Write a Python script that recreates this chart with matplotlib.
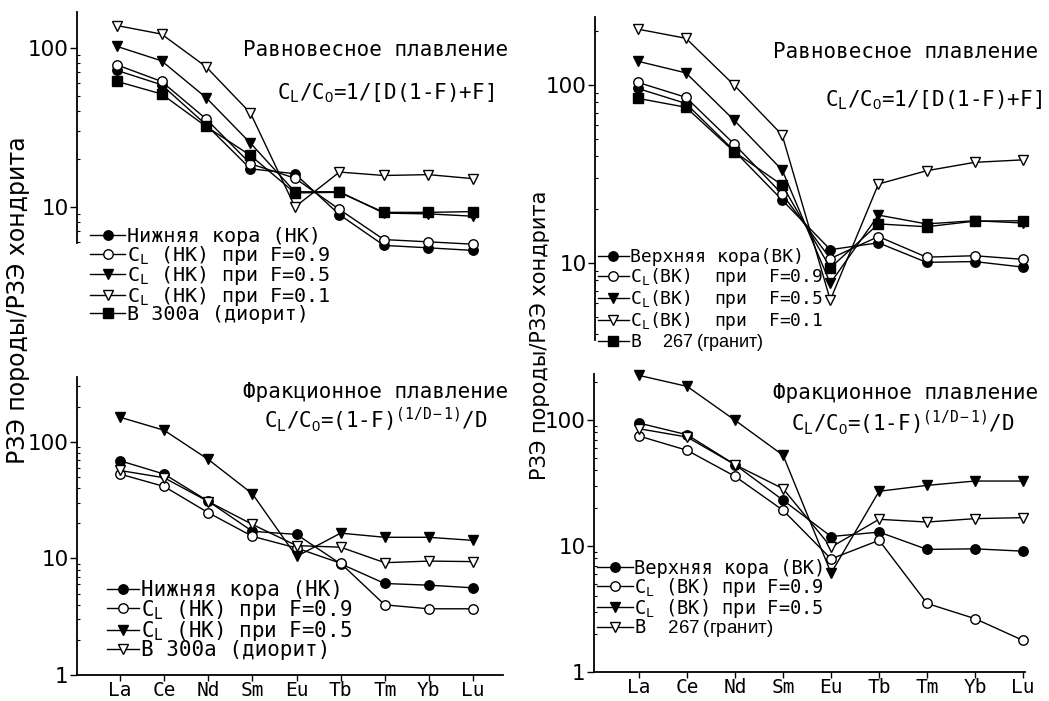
import matplotlib
matplotlib.use("Agg")
import matplotlib.pyplot as plt
from matplotlib.ticker import LogLocator, NullFormatter, FixedLocator, FuncFormatter

plt.rcParams['mathtext.fontset'] = 'custom'
plt.rcParams['mathtext.rm'] = 'DejaVu Sans Mono'
plt.rcParams['mathtext.it'] = 'DejaVu Sans Mono'
plt.rcParams['mathtext.sf'] = 'Liberation Sans'

MONO = 'DejaVu Sans Mono'

elements = ['La', 'Ce', 'Nd', 'Sm', 'Eu', 'Tb', 'Tm', 'Yb', 'Lu']

# Top-left: equilibrium melting, lower crust
lc_tl = [72, 58.5, 32.8, 17.3, 16.1, 8.9, 5.7, 5.5, 5.3]
eq_lc_f09 = [78, 61.4, 35.7, 18.6, 15.1, 9.6, 6.2, 6.0, 5.8]
eq_lc_f05 = [102, 82.8, 48.6, 25.1, 12.4, 12.4, 9.1, 9.0, 8.7]
eq_lc_f01 = [138, 122, 76, 38.8, 9.95, 16.5, 15.7, 15.9, 15.0]
b300a_tl = [61.4, 51.2, 32, 21, 12.2, 12.3, 9.2, 9.2, 9.3]

# Bottom-left: fractional melting, lower crust
lc_bl = [69, 53, 31, 17.1, 16.1, 9.0, 6.1, 5.9, 5.6]
fr_lc_f09 = [53, 41.5, 24.7, 15.5, 12.3, 9.1, 4.0, 3.7, 3.7]
fr_lc_f05 = [163, 126, 70.8, 35.9, 10.4, 16.5, 15.2, 15.2, 14.3]
b300a_bl = [56.9, 49.3, 30.8, 19.6, 12.9, 12.5, 9.2, 9.5, 9.4]

# Top-right: equilibrium melting, upper crust
uc_tr = [95.7, 78.8, 42.8, 22.6, 11.9, 13.0, 10.1, 10.2, 9.5]
eq_uc_f09 = [103.5, 85.3, 46.7, 24.4, 10.6, 14.1, 10.8, 11.0, 10.5]
eq_uc_f05 = [136, 117, 63.5, 33.3, 7.7, 18.6, 16.6, 17.3, 16.8]
eq_uc_f01 = [206, 183, 100, 52.4, 6.2, 27.8, 33, 36.8, 38]
b267_tr = [84.2, 75, 42.3, 27.4, 9.4, 16.6, 16.0, 17.2, 17.3]

# Bottom-right: fractional melting, upper crust
uc_br = [94.6, 76.4, 44.2, 23.1, 11.9, 12.9, 9.4, 9.5, 9.1]
fr_uc_f09 = [74.6, 57.5, 35.7, 19.2, 7.9, 11.1, 3.5, 2.65, 1.78]
fr_uc_f05 = [226, 185, 99.5, 52.5, 6.1, 27.2, 30.3, 32.8, 32.8]
b267_br = [85.3, 73.3, 44.2, 28.5, 9.8, 16.3, 15.5, 16.5, 16.8]

W, H = 1049, 701
fig = plt.figure(figsize=(W / 100, H / 100), dpi=100)


def fx(x):
    return x / W


def fy(y):
    return 1 - y / H


def make_ax(left, right, top, bottom, xlim, ylim, show_x):
    ax = fig.add_axes([fx(left), fy(bottom), fx(right - left), (bottom - top) / H])
    ax.set_yscale('log')
    ax.set_xlim(*xlim)
    ax.set_ylim(*ylim)
    for s in ['top', 'right']:
        ax.spines[s].set_visible(False)
    ax.spines['left'].set_linewidth(1.3)
    ax.yaxis.set_major_locator(LogLocator(base=10, numticks=10))
    ax.yaxis.set_major_formatter(FuncFormatter(lambda v, p: '%g' % v))
    ax.yaxis.set_minor_locator(LogLocator(base=10, subs=range(2, 10), numticks=20))
    ax.yaxis.set_minor_formatter(NullFormatter())
    ax.tick_params(axis='y', which='major', direction='out', length=5, width=1,
                   labelsize=15.5, pad=1)
    ax.tick_params(axis='y', which='minor', direction='in', length=2.5, width=0.8)
    for lab in ax.get_yticklabels():
        lab.set_family('DejaVu Sans')
    ax.xaxis.set_major_locator(FixedLocator(range(len(elements))))
    ax.set_xticklabels(elements, family=MONO, fontsize=14)
    ax.xaxis.set_minor_locator(FixedLocator([]))
    if show_x:
        ax.spines['bottom'].set_linewidth(1.3)
        ax.tick_params(axis='x', direction='out', length=4, width=1, pad=0.5)
    else:
        ax.spines['bottom'].set_visible(False)
        ax.tick_params(axis='x', length=0, labelbottom=False)
    return ax


x = list(range(len(elements)))
ms = 6.8


def series(ax, y, marker, filled, label):
    ax.plot(x, y, color='black', lw=1.0, marker=marker, ms=ms,
            mfc='black' if filled else 'white', mec='black', mew=1.0,
            label=label, clip_on=False)


def legend(ax, px, py, fs, hl, ls=-0.12):
    leg = ax.legend(loc='upper left', bbox_to_anchor=(fx(px), fy(py)),
                    bbox_transform=fig.transFigure, frameon=False,
                    prop={'family': MONO, 'size': fs}, handlelength=hl,
                    handletextpad=0.1, labelspacing=ls, borderpad=0,
                    borderaxespad=0)
    return leg


CL = 'C$_\\mathrm{L}$'
C0 = 'C$_\\mathsf{0}$'

# ---- Top-left
ax1 = make_ax(77, 504, 12, 243, (-0.9, 8.7), (5.9, 168), False)
series(ax1, lc_tl, 'o', True, 'Нижняя кора (НК)')
series(ax1, eq_lc_f09, 'o', False, CL + ' (НК) при F=0.9')
series(ax1, eq_lc_f05, 'v', True, CL + ' (НК) при F=0.5')
series(ax1, eq_lc_f01, 'v', False, CL + ' (НК) при F=0.1')
series(ax1, b300a_tl, 's', True, 'B 300a (диорит)')
legend(ax1, 90, 227, 14.5, 1.75)

# ---- Bottom-left
ax3 = make_ax(77, 503, 377, 675, (-0.975, 8.68), (1, 361), True)
series(ax3, lc_bl, 'o', True, 'Нижняя кора (НК)')
series(ax3, fr_lc_f09, 'o', False, CL + ' (НК) при F=0.9')
series(ax3, fr_lc_f05, 'v', True, CL + ' (НК) при F=0.5')
series(ax3, b300a_bl, 'v', False, 'B 300a (диорит)')
legend(ax3, 107, 580, 15, 1.55)

# ---- Top-right
ax2 = make_ax(595, 1042, 17, 340, (-0.89, 8.4), (3.7, 241), False)
series(ax2, uc_tr, 'o', True, 'Верхняя кора(ВК)')
series(ax2, eq_uc_f09, 'o', False, CL + '(ВК)  при  F=0.9')
series(ax2, eq_uc_f05, 'v', True, CL + '(ВК)  при  F=0.5')
series(ax2, eq_uc_f01, 'v', False, CL + '(ВК)  при  F=0.1')
series(ax2, b267_tr, 's', True, 'B  $\\mathsf{267\\ (гранит)}$')
legend(ax2, 598, 248, 13, 1.7, ls=0.0)

# ---- Bottom-right
ax4 = make_ax(594, 1025, 374, 672, (-0.94, 8.04), (1, 232), True)
series(ax4, uc_br, 'o', True, 'Верхняя кора (ВК)')
series(ax4, fr_uc_f09, 'o', False, CL + ' (ВК) при F=0.9')
series(ax4, fr_uc_f05, 'v', True, CL + ' (ВК) при F=0.5')
series(ax4, b267_br, 'v', False, 'B  $\\mathsf{267\\ (гранит)}$')
legend(ax4, 597, 559, 13.5, 1.9)

# ---- Annotations
tkw = dict(family=MONO, fontsize=15, ha='right', va='center')
eq_formula = CL + '/' + C0 + '=1/[D(1-F)+F]'
fr_formula = CL + '/' + C0 + '=(1-F)$^{\\mathrm{(1/D-1)}}$/D'
fig.text(fx(508), fy(50), 'Равновесное плавление', **tkw)
fig.text(fx(494), fy(93), eq_formula, **tkw)
fig.text(fx(1038), fy(52), 'Равновесное плавление', **tkw)
fig.text(fx(1042), fy(100), eq_formula, **tkw)
fig.text(fx(508), fy(392), 'Фракционное плавление', **tkw)
fig.text(fx(487), fy(420), fr_formula, **tkw)
fig.text(fx(1038), fy(393), 'Фракционное плавление', **tkw)
fig.text(fx(1014), fy(423), fr_formula, **tkw)

fig.text(fx(18), fy(300), 'РЗЭ породы/РЗЭ хондрита', rotation=90, ha='center',
         va='center', family='DejaVu Sans', fontsize=17)
fig.text(fx(540), fy(335), 'РЗЭ породы/РЗЭ хондрита', rotation=90, ha='center',
         va='center', family='DejaVu Sans', fontsize=15)

fig.savefig('out.png', dpi=100)
